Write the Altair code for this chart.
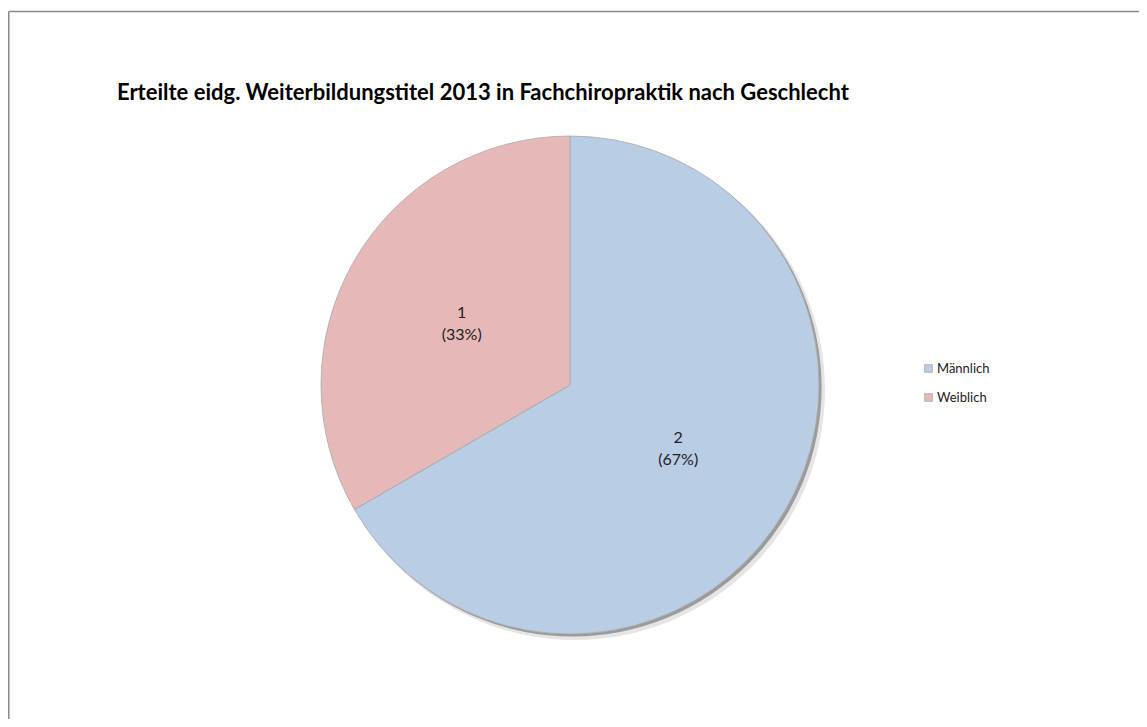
import altair as alt
import pandas as pd

categories = ["Männlich", "Weiblich"]
values = [2, 1]
colors = ["#B9CDE5", "#E6B9B8"]
title_text = "Erteilte eidg. Weiterbildungstitel 2013 in Fachchiropraktik nach Geschlecht"

df = pd.DataFrame({"Geschlecht": categories, "Anzahl": values, "ord": list(range(len(categories)))})

CX, CY, R = 562, 377, 249
FONT = "Lato"
FULL = 6.2832

base = alt.Chart(df).transform_joinaggregate(total="sum(Anzahl)")

theta = alt.Theta("Anzahl:Q", stack=True)
order = alt.Order("ord:Q")
color = alt.Color(
    "Geschlecht:N",
    scale=alt.Scale(domain=categories, range=colors),
    legend=alt.Legend(
        title=None, orient="none", legendX=914, legendY=354,
        symbolType="square", symbolSize=60, symbolStrokeColor="#9a9a9a",
        symbolStrokeWidth=0.6, labelFont=FONT, labelFontSize=13,
        labelColor="#222", rowPadding=15, labelOffset=2,
    ),
)

one = alt.Data(values=[{"v": 1}])

shadow2 = alt.Chart(one).mark_arc(radius=R + 1, theta=0, theta2=FULL, fill="#dedede", opacity=0.8).encode(
    x=alt.value(CX + 5), y=alt.value(CY + 5))
shadow1 = alt.Chart(one).mark_arc(radius=R, theta=0, theta2=FULL, fill="#9b9b9b").encode(
    x=alt.value(CX + 2.5), y=alt.value(CY + 2.5))

pie = base.mark_arc(radius=R, stroke="#a8a8a8", strokeWidth=0.8).encode(
    theta=theta, color=color, order=order, x=alt.value(CX), y=alt.value(CY))

labels = base.transform_calculate(
    label="[format(datum.Anzahl, 'd'), '(' + format(datum.Anzahl / datum.total, '.0%') + ')']"
).mark_text(radius=125, font=FONT, fontSize=16, color="#222", lineHeight=22, dy=-10,
            align="center", baseline="middle").encode(
    theta=theta, order=order, text="label:N", x=alt.value(CX), y=alt.value(CY))

title = alt.Chart(one).mark_text(
    text=title_text, font=FONT, fontSize=22, fontWeight="bold", color="#000",
    align="left", baseline="alphabetic").encode(x=alt.value(109), y=alt.value(92))

frame_top = alt.Chart(one).mark_rule(color="#8a8a8a", strokeWidth=1.5).encode(
    x=alt.value(0.75), x2=alt.value(1139), y=alt.value(3.5))
frame_left = alt.Chart(one).mark_rule(color="#8a8a8a", strokeWidth=1.5).encode(
    x=alt.value(0.75), y=alt.value(3.5), y2=alt.value(719))

chart = alt.layer(shadow2, shadow1, pie, labels, title, frame_top, frame_left).properties(
    width=1131, height=711, padding=0,
    autosize=alt.AutoSizeParams(type="none"),
).configure_view(stroke=None)

chart.save("out.html", embed_options={"renderer": "svg", "actions": False})
